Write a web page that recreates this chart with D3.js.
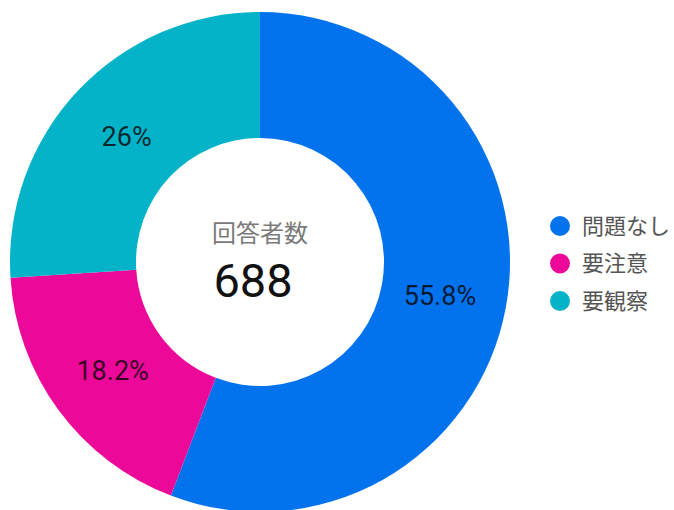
<!DOCTYPE html>
<html>
<head>
<meta charset="utf-8">
<script src="https://cdn.jsdelivr.net/npm/d3@7/dist/d3.min.js"></script>
<style>
  html, body { margin: 0; padding: 0; background: #fff; }
  svg { display: block; }
</style>
</head>
<body>
<svg id="chart" width="674" height="510"></svg>
<script>
// Survey result breakdown
const categories = ["問題なし", "要注意", "要観察"];
const shares = [55.8, 18.2, 26];
const shareLabels = ["55.8%", "18.2%", "26%"];
const colors = ["#0373ED", "#EC0899", "#05B3C9"];
const centerTitle = "回答者数";
const totalRespondents = 688;

const svg = d3.select("#chart");
const cx = 260, cy = 262;
const outerR = 250, innerR = 124;

const data = categories.map((c, i) => ({ name: c, value: shares[i], label: shareLabels[i], color: colors[i] }));

const pie = d3.pie().value(d => d.value).sort(null);
const arc = d3.arc().innerRadius(innerR).outerRadius(outerR);
const labelArc = d3.arc().innerRadius(183).outerRadius(183);

const g = svg.append("g").attr("transform", `translate(${cx},${cy})`);
const arcs = pie(data);

g.selectAll("path.slice")
  .data(arcs)
  .join("path")
  .attr("class", "slice")
  .attr("d", arc)
  .attr("fill", d => d.data.color);

g.selectAll("text.pct")
  .data(arcs)
  .join("text")
  .attr("class", "pct")
  .attr("transform", d => `translate(${labelArc.centroid(d)})`)
  .attr("text-anchor", "middle")
  .attr("dy", "0.36em")
  .attr("font-family", "Roboto, 'Noto Sans', sans-serif")
  .attr("font-size", 27)
  .attr("fill", "rgba(0,0,0,0.78)")
  .text(d => d.data.label);

// Center caption
g.append("text")
  .attr("x", 0).attr("y", -29)
  .attr("text-anchor", "middle")
  .attr("dy", "0.36em")
  .attr("font-family", "'Noto Sans CJK JP', sans-serif")
  .attr("font-size", 24)
  .attr("fill", "#7a7a7a")
  .text(centerTitle);

g.append("text")
  .attr("x", -7).attr("y", 35)
  .attr("text-anchor", "middle")
  .attr("font-family", "Roboto, 'Noto Sans', sans-serif")
  .attr("font-size", 47)
  .attr("fill", "#111")
  .text(totalRespondents);

// Legend
const legend = svg.append("g").attr("transform", "translate(560,226)");
const item = legend.selectAll("g.item")
  .data(data)
  .join("g")
  .attr("class", "item")
  .attr("transform", (d, i) => `translate(0,${i * 37.5})`);

item.append("circle")
  .attr("r", 10)
  .attr("fill", d => d.color);

item.append("text")
  .attr("x", 22)
  .attr("dy", "0.36em")
  .attr("font-family", "'Noto Sans CJK JP', sans-serif")
  .attr("font-size", 22)
  .attr("fill", "#555")
  .text(d => d.name);
</script>
</body>
</html>
